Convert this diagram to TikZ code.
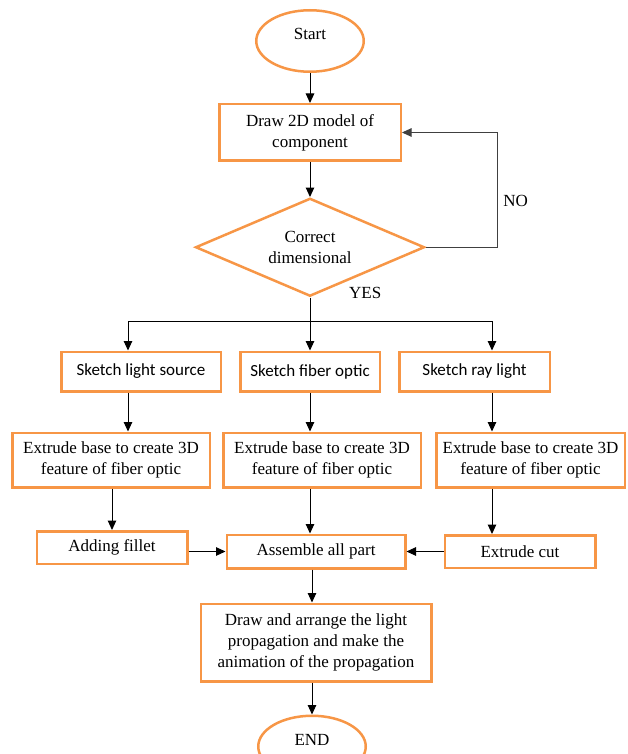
\documentclass[tikz,border=0pt]{standalone}
\usepackage{fontspec}
\setmainfont{Liberation Serif}
\newfontfamily\fuenteBoceto{Carlito}
\usepackage{tikz}
\usetikzlibrary{arrows.meta, positioning, shapes.geometric}
\definecolor{naranjaoffice}{HTML}{F79646}
\definecolor{grisoscuro}{HTML}{404040}
\colorlet{colBorde}{naranjaoffice}
\colorlet{colFlecha}{black}
\colorlet{colRetorno}{grisoscuro}
\newcommand{\tamTexto}{\fontsize{17pt}{21pt}\selectfont}
\tikzset{
  cajaBase/.style={
    draw=colBorde, line width=2.5pt, fill=white,
    align=center, font=\tamTexto, text=black, inner sep=2pt
  },
  cajaProceso/.style={cajaBase, rectangle},
  cajaBoceto/.style={cajaBase, rectangle, font=\tamTexto\fuenteBoceto, minimum height=39.5pt},
  cajaTerminal/.style={cajaBase, ellipse, minimum width=107.5pt, minimum height=61.5pt, text depth=14pt},
  cajaDecision/.style={cajaBase, diamond, aspect=2.3, minimum width=229pt, minimum height=98pt, inner sep=0pt},
  flecha/.style={-{Triangle[length=9.5pt, width=8.5pt]}, line width=1pt, colFlecha},
  flechaRetorno/.style={flecha, colRetorno},
  linea/.style={line width=1pt, colFlecha},
  etiquetaFlecha/.style={font=\tamTexto, text=black, inner sep=1pt},
}

\begin{document}
\begin{tikzpicture}[x=1pt, y=1pt]
    \useasboundingbox (0,0) rectangle (628,-754);
    \node[cajaTerminal] (inicio) at (310,-41) {Start};
    \node[cajaProceso, minimum width=181.5pt, minimum height=56.5pt, below=30pt of inicio] (modelo) {Draw 2D model of\\component};
    \node[cajaDecision, below=35pt of modelo] (dimension) {Correct\\dimensional};
    \node[cajaBoceto, minimum width=139.5pt, below=53pt of dimension] (fibra) {Sketch fiber optic};
    \node[cajaBoceto, minimum width=159.5pt, left=17pt of fibra] (fuente) {Sketch light source};
    \node[cajaBoceto, minimum width=150.5pt, right=17pt of fibra] (rayo) {Sketch ray light};
    \node[cajaProceso, minimum width=197.5pt, minimum height=54.5pt, below=39pt of fibra, xshift=12pt] (extFibra) {Extrude base to create 3D\\feature of fiber optic};
    \node[cajaProceso, minimum width=197.5pt, minimum height=54.5pt, left=11pt of extFibra] (extFuente) {Extrude base to create 3D\\feature of fiber optic};
    \node[cajaProceso, minimum width=188.5pt, minimum height=54.5pt, right=13pt of extFibra] (extRayo) {Extrude base to create 3D\\feature of fiber optic};
    \node[cajaProceso, minimum width=178.5pt, minimum height=33.5pt, below=45pt of extFibra, xshift=-6pt] (ensamble) {Assemble all part};
    \node[cajaProceso, minimum width=150.5pt, minimum height=32.5pt, left=37pt of ensamble, yshift=4pt] (filete) {Adding fillet};
    \node[cajaProceso, minimum width=150.5pt, minimum height=32.5pt, right=37pt of ensamble] (corte) {Extrude cut};
    \node[cajaProceso, minimum width=230.5pt, minimum height=77.5pt, below=33pt of ensamble] (animacion) {Draw and arrange the light\\propagation and make the\\animation of the propagation};
    \node[cajaTerminal, below=32pt of animacion, xshift=-4pt] (fin) {END};
    \coordinate[below=23pt of dimension] (rama);
    \coordinate (ramaIzq) at (128,-321);
    \coordinate (ramaDer) at (492,-321);
    \node[etiquetaFlecha, anchor=west, xshift=38pt, yshift=5pt] (si) at (dimension.south) {YES};

    \draw[flecha] (inicio) -- (modelo);
    \draw[flecha] (modelo) -- (dimension);
    \draw[flechaRetorno] (dimension.east) -- ++(72pt,0) |- node[pos=0.2, right, etiquetaFlecha, xshift=4pt] {NO} (modelo.east);
    \draw[linea] (dimension.south) -- (rama);
    \draw[linea] (ramaIzq) -- (ramaDer);
    \draw[flecha] (ramaIzq) -- (ramaIzq |- fuente.north);
    \draw[flecha] (rama) -- (fibra);
    \draw[flecha] (ramaDer) -- (ramaDer |- rayo.north);
    \draw[flecha] (ramaIzq |- fuente.south) -- (ramaIzq |- extFuente.north);
    \draw[flecha] (fibra) -- (fibra |- extFibra.north);
    \draw[flecha] (ramaDer |- rayo.south) -- (ramaDer |- extRayo.north);
    \draw[flecha] (filete |- extFuente.south) -- (filete);
    \draw[flecha] (fibra |- extFibra.south) -- (fibra |- ensamble.north);
    \draw[flecha] (ramaDer |- extRayo.south) -- (ramaDer |- corte.north);
    \draw[flecha] (filete.east |- ensamble) -- (ensamble);
    \draw[flecha] (corte.west |- ensamble) -- (ensamble);
    \draw[flecha] (ensamble.south -| fin) -- (fin |- animacion.north);
    \draw[flecha] (animacion.south -| fin) -- (fin);
\end{tikzpicture}
\end{document}
